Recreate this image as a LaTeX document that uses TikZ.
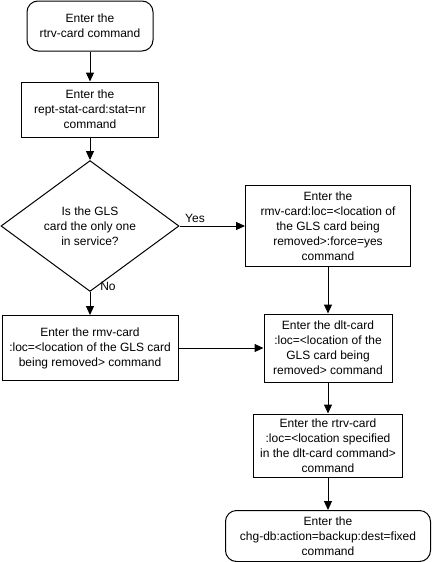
\documentclass[tikz,border=0pt]{standalone}
\usepackage{fontspec}
\setmainfont{Liberation Sans}
\usetikzlibrary{shapes.geometric,arrows.meta}
\begin{document}
\begin{tikzpicture}[x=1pt,y=-1pt,
  txt/.style={font=\fontsize{12}{15}\selectfont},
  box/.style={txt,draw,line width=1pt,align=center,inner sep=0pt},
  term/.style={box,rounded corners=11pt},
  arr/.style={-{Triangle[length=9pt,width=8pt]},line width=1pt},
  lbl/.style={txt,inner sep=0pt}]
\useasboundingbox (0,0) rectangle (432,562);
\node[term,minimum width=126pt,minimum height=50pt] (n1) at (90,26) {Enter the\\rtrv-card command};
\node[box,minimum width=137pt,minimum height=55pt] (n2) at (90,109.5) {Enter the\\rept-stat-card:stat=nr\\command};
\node[box,diamond,minimum width=178pt,minimum height=112pt] (d) at (90,226) {Is the GLS\\card the only one\\in service?};
\node[box,minimum width=165pt,minimum height=81pt] (n3) at (328,226) {Enter the\\rmv-card:loc=<location of\\the GLS card being\\removed>:force=yes\\command};
\node[box,minimum width=176pt,minimum height=65pt] (n5) at (90,348) {Enter the rmv-card\\:loc=<location of the GLS card\\being removed> command};
\node[box,minimum width=128pt,minimum height=68pt] (n4) at (328,348) {Enter the dlt-card\\:loc=<location of the\\GLS card being\\removed> command};
\node[box,minimum width=149pt,minimum height=63pt] (n6) at (328,445.5) {Enter the rtrv-card\\:loc=<location specified\\in the dlt-card command>\\command};
\node[term,minimum width=205pt,minimum height=51pt] (n7) at (328,536) {Enter the\\chg-db:action=backup:dest=fixed\\command};
\node[lbl] (yes) at (195,218) {Yes};
\node[lbl] (no) at (108,286) {No};
\draw[arr] (n1) -- (n2);
\draw[arr] (n2) -- (d);
\draw[arr] (d) -- (n3);
\draw[arr] (d) -- (n5);
\draw[arr] (n3) -- (n4);
\draw[arr] (n5) -- (n4);
\draw[arr] (n4) -- (n6);
\draw[arr] (n6) -- (n7);
\end{tikzpicture}
\end{document}
